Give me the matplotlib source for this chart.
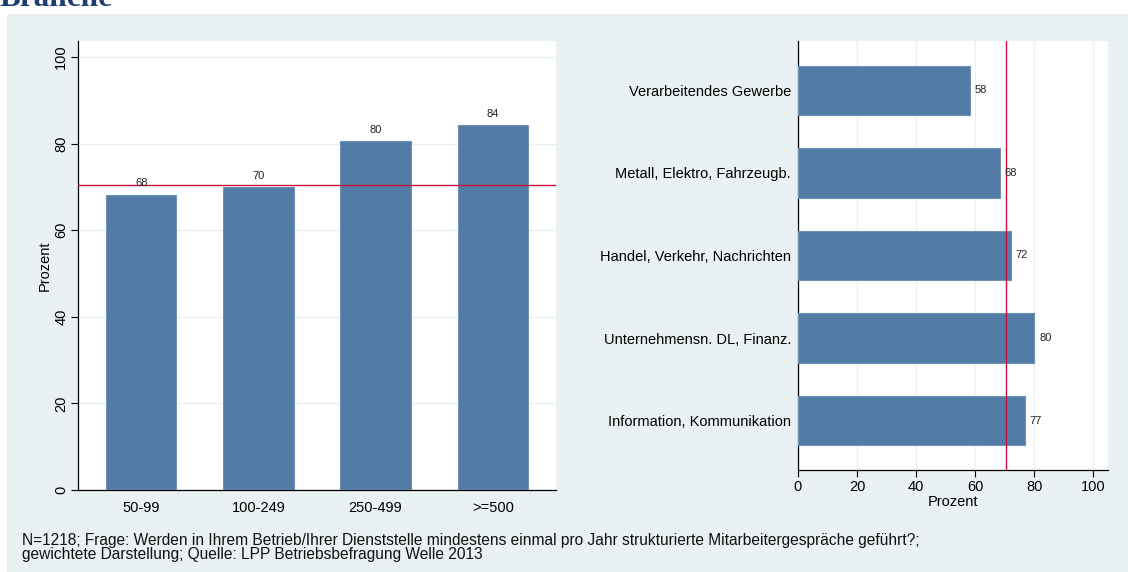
import matplotlib
matplotlib.use("Agg")
import matplotlib.pyplot as plt
from matplotlib.patches import Rectangle

# ---- data ----
size_categories = ["50-99", "100-249", "250-499", ">=500"]
size_values = [68.2, 70.0, 80.5, 84.2]
size_labels = ["68", "70", "80", "84"]

branch_categories = ["Verarbeitendes Gewerbe", "Metall, Elektro, Fahrzeugb.",
                     "Handel, Verkehr, Nachrichten", "Unternehmensn. DL, Finanz.",
                     "Information, Kommunikation"]
branch_values = [58.2, 68.4, 72.0, 80.0, 76.8]
branch_labels = ["58", "68", "72", "80", "77"]

mean_value = 70.5
y_ticks = [0, 20, 40, 60, 80, 100]

title_text = "Branche"
note_text = ("N=1218; Frage: Werden in Ihrem Betrieb/Ihrer Dienststelle mindestens einmal pro Jahr "
             "strukturierte Mitarbeitergespräche geführt?;\n"
             "gewichtete Darstellung; Quelle: LPP Betriebsbefragung Welle 2013")

# ---- style ----
plt.rcParams['font.family'] = ['Liberation Sans', 'DejaVu Sans']
W, H = 1128, 572
bar_color = "#527CA6"
bar_edge = "#6E93B8"
line_color = "#C8103F"
grid_color = "#E8F0F2"
panel_color = "#EAF1F3"

fig = plt.figure(figsize=(W / 100, H / 100), dpi=100, facecolor="white")
fig.patches.append(Rectangle((7 / W, 0), 1, (H - 14) / H, transform=fig.transFigure,
                             facecolor=panel_color, edgecolor="none", zorder=-10))

fig.text(0.0, 1 - 6 / H, title_text, fontsize=22.5, fontweight="bold",
         family=["Liberation Serif", "DejaVu Serif"], color="#1F3D73",
         ha="left", va="baseline")

def fx(px):
    return px / W

def fy(py):
    return 1 - py / H

FS = 10.5
VS = 8

# left axes
ax1 = fig.add_axes([fx(78), fy(490), fx(556) - fx(78), fy(41) - fy(490)])
ax1.set_facecolor("white")
xs = range(len(size_categories))
ax1.bar(xs, size_values, width=0.6, color=bar_color, edgecolor=bar_edge, linewidth=0.8, zorder=3)
ax1.axhline(mean_value, color=line_color, linewidth=1.0, zorder=4)
for x, v, lab in zip(xs, size_values, size_labels):
    ax1.annotate(lab, (x, v), xytext=(0, 4.5), textcoords="offset points",
                 ha="center", va="bottom", fontsize=VS, color="#222222", zorder=5)
ax1.set_xlim(-0.54, 3.54)
ax1.set_ylim(0, 103.7)
ax1.set_xticks(list(xs))
ax1.set_xticklabels(size_categories, fontsize=FS)
ax1.set_yticks(y_ticks)
ax1.set_yticklabels([str(t) for t in y_ticks], rotation=90, va="center", fontsize=FS)
ax1.tick_params(axis="x", length=0, pad=8)
ax1.tick_params(axis="y", length=5, width=0.8, pad=2)
ax1.yaxis.grid(True, color=grid_color, linewidth=1.0, zorder=0)
ax1.set_axisbelow(True)
for s in ["top", "right"]:
    ax1.spines[s].set_visible(False)
for s in ["left", "bottom"]:
    ax1.spines[s].set_linewidth(0.9)
ax1.set_ylabel("Prozent", fontsize=FS, labelpad=2)

# right axes
ax2 = fig.add_axes([fx(798), fy(470), fx(1108) - fx(798), fy(41) - fy(470)])
ax2.set_facecolor("white")
ys = range(len(branch_categories))
ax2.barh(ys, branch_values, height=0.6, color=bar_color, edgecolor=bar_edge, linewidth=0.8, zorder=3)
ax2.axvline(mean_value, color=line_color, linewidth=1.0, zorder=4)
for y, v, lab in zip(ys, branch_values, branch_labels):
    ax2.annotate(lab, (v, y), xytext=(3.5, 0), textcoords="offset points",
                 ha="left", va="center", fontsize=VS, color="#222222", zorder=5)
ax2.set_ylim(4.6, -0.6)
ax2.set_xlim(0, 105)
ax2.set_yticks(list(ys))
ax2.set_yticklabels(branch_categories, fontsize=FS)
ax2.set_xticks(y_ticks)
ax2.set_xticklabels([str(t) for t in y_ticks], fontsize=FS)
ax2.tick_params(axis="y", length=0, pad=5)
ax2.tick_params(axis="x", length=5, width=0.8, pad=2)
ax2.xaxis.grid(True, color=grid_color, linewidth=1.0, zorder=0)
ax2.set_axisbelow(True)
for s in ["top", "right"]:
    ax2.spines[s].set_visible(False)
for s in ["left", "bottom"]:
    ax2.spines[s].set_linewidth(0.9)
ax2.set_xlabel("Prozent", fontsize=FS, labelpad=1)

fig.text(fx(22), fy(533), note_text, fontsize=11.2, ha="left", va="top",
         color="#111111", linespacing=0.95)

fig.savefig("out.png", dpi=100, facecolor="white")
